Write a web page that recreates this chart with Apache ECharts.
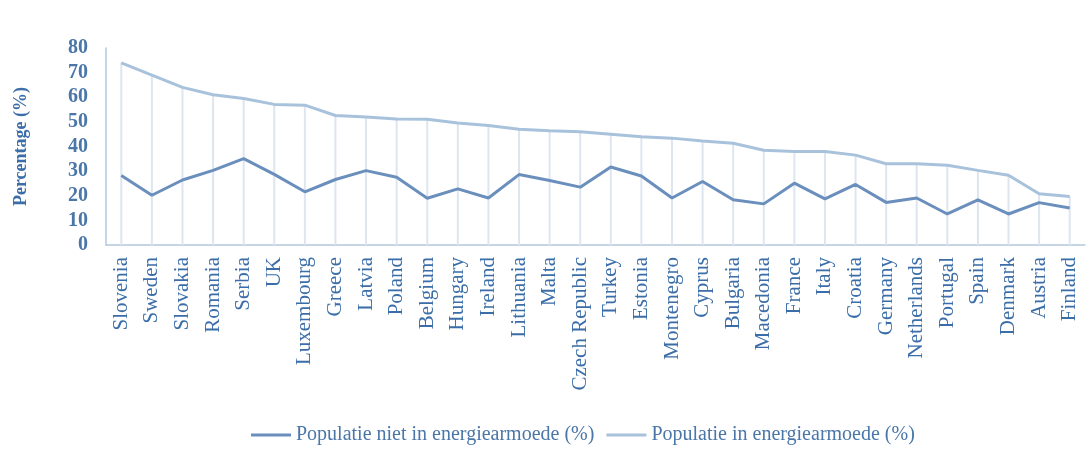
<!DOCTYPE html>
<html>
<head>
<meta charset="utf-8">
<script src="https://cdn.jsdelivr.net/npm/echarts@6/dist/echarts.min.js"></script>
<style>
  html, body { margin: 0; padding: 0; background: #fff; }
  #container { width: 1088px; height: 452px; }
</style>
</head>
<body>
<div id="container"></div>
<script>
var countries = ['Slovenia', 'Sweden', 'Slovakia', 'Romania', 'Serbia', 'UK', 'Luxembourg', 'Greece',
    'Latvia', 'Poland', 'Belgium', 'Hungary', 'Ireland', 'Lithuania', 'Malta', 'Czech Republic',
    'Turkey', 'Estonia', 'Montenegro', 'Cyprus', 'Bulgaria', 'Macedonia', 'France', 'Italy',
    'Croatia', 'Germany', 'Netherlands', 'Portugal', 'Spain', 'Denmark', 'Austria', 'Finland'];
var nietInArmoede = [28.2, 20.2, 26.4, 30.3, 35.1, 28.7, 21.6, 26.6, 30.2, 27.5, 19.0, 22.8, 19.1, 28.6, 26.2, 23.5,
    31.7, 28.0, 19.1, 25.8, 18.4, 16.7, 25.1, 18.7, 24.6, 17.3, 19.1, 12.6, 18.3, 12.6, 17.2, 15.0];
var inArmoede = [74.0, 69.0, 64.0, 61.0, 59.5, 57.1, 56.8, 52.6, 52.0, 51.2, 51.1, 49.5, 48.5, 47.0, 46.4, 46.0,
    45.0, 44.0, 43.4, 42.2, 41.3, 38.5, 38.0, 38.0, 36.5, 33.0, 33.0, 32.4, 30.3, 28.3, 20.8, 19.7];
var yTicks = [0, 80, 10];

var dom = document.getElementById('container');
var myChart = echarts.init(dom);
var serif = '"Liberation Serif", "DejaVu Serif", serif';
var option = {
    animation: false,
    grid: { left: 106, right: 3, top: 48, bottom: 207 },
    legend: {
        left: 246,
        top: 420,
        itemWidth: 40,
        itemHeight: 3,
        itemGap: 12,
        icon: 'rect',
        textStyle: { fontFamily: serif, fontSize: 20, color: '#4a76a8' },
        data: ['Populatie niet in energiearmoede (%)', 'Populatie in energiearmoede (%)']
    },
    xAxis: {
        type: 'category',
        data: countries,
        axisLine: { lineStyle: { color: '#b3c8de', width: 1.5 } },
        axisTick: { show: false },
        axisLabel: {
            rotate: 90,
            interval: 0,
            margin: 12,
            fontFamily: serif,
            fontSize: 21,
            color: '#3b6ea8'
        }
    },
    yAxis: {
        type: 'value',
        min: yTicks[0],
        max: yTicks[1],
        interval: yTicks[2],
        name: 'Percentage (%)',
        nameLocation: 'middle',
        nameGap: 76,
        nameRotate: 90,
        nameTextStyle: { fontFamily: serif, fontSize: 18, fontWeight: 'bold', color: '#3b6ea8', padding: [0, 0, 0, 0] },
        axisLine: { show: true, lineStyle: { color: '#b3c8de', width: 1.5 } },
        axisTick: { show: false },
        splitLine: { show: false },
        axisLabel: { fontFamily: serif, fontSize: 20, fontWeight: 'bold', color: '#4a76a8', margin: 18 }
    },
    series: [
        {
            // drop lines
            type: 'bar',
            data: inArmoede,
            barWidth: 2,
            silent: true,
            itemStyle: { color: '#dde6f0' },
            z: 1
        },
        {
            name: 'Populatie niet in energiearmoede (%)',
            type: 'line',
            data: nietInArmoede,
            showSymbol: false,
            lineStyle: { color: '#6a8fbd', width: 3 },
            itemStyle: { color: '#6a8fbd' },
            z: 3
        },
        {
            name: 'Populatie in energiearmoede (%)',
            type: 'line',
            data: inArmoede,
            showSymbol: false,
            lineStyle: { color: '#a9c2dc', width: 3 },
            itemStyle: { color: '#a9c2dc' },
            z: 2
        }
    ]
};
myChart.setOption(option);
</script>
</body>
</html>
